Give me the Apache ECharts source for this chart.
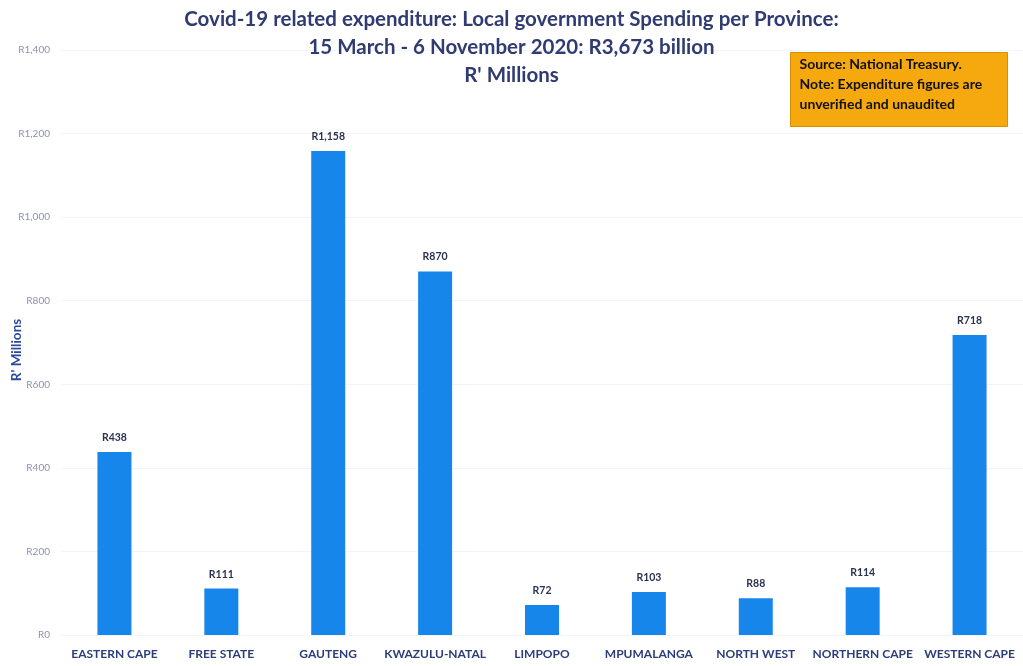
<!DOCTYPE html>
<html><head><meta charset="utf-8">
<script src="https://cdn.jsdelivr.net/npm/echarts@6/dist/echarts.min.js"></script>
<style>html,body{margin:0;padding:0;background:#fff}#c{width:1023px;height:666px}</style>
</head><body><div id="c"></div>
<script>
const categories = ["EASTERN CAPE","FREE STATE","GAUTENG","KWAZULU-NATAL","LIMPOPO","MPUMALANGA","NORTH WEST","NORTHERN CAPE","WESTERN CAPE"];
const spending = [438, 111, 1158, 870, 72, 103, 88, 114, 718];
const titleLines = ["Covid-19 related expenditure: Local government Spending per Province:", "15 March - 6 November 2020: R3,673 billion", "R' Millions"];
const noteLines = ["Source: National Treasury.", "Note: Expenditure figures are", "unverified and unaudited"];
const yAxisName = "R' Millions";

const fmt = v => 'R' + v.toLocaleString('en-US');
const chart = echarts.init(document.getElementById('c'), null, {renderer:'canvas'});
chart.setOption({
  backgroundColor: '#ffffff',
  animation: false,
  title: {
    text: titleLines.join('\n'),
    left: 'center', top: 0,
    textStyle: {fontFamily: 'Lato', fontWeight: 'bold', fontSize: 20.5, color: '#303b72', lineHeight: 28}
  },
  graphic: [{
    type: 'group', left: 790, top: 52,
    children: [
      {type: 'rect', shape: {x: 0, y: 0, width: 217, height: 74}, style: {fill: '#f6a90f', stroke: '#d98e00', lineWidth: 1}},
      {type: 'text', left: 9, top: 2, style: {text: noteLines.join('\n'), fill: '#111', font: 'bold 14px Lato', lineHeight: 20}}
    ]
  }, {
    type: 'text', x: 17, y: 350, rotation: Math.PI / 2,
    style: {text: yAxisName, fill: '#2c4a9a', font: 'bold 13.5px Lato', align: 'center', verticalAlign: 'middle'}
  }],
  grid: {left: 61, right: 0, top: 50, bottom: 31, containLabel: false, outerBoundsMode: 'none'},
  xAxis: {
    type: 'category', data: categories,
    axisLine: {show: false}, axisTick: {show: false},
    axisLabel: {interval: 0, margin: 13, color: '#2c3d78', fontFamily: 'Lato', fontWeight: 'bold', fontSize: 12}
  },
  yAxis: {
    type: 'value', min: 0, max: 1400, interval: 200,
    axisLine: {show: false}, axisTick: {show: false},
    axisLabel: {formatter: v => fmt(v), color: '#8a93b0', fontFamily: 'Lato', fontSize: 10, margin: 11},
    splitLine: {show: true, lineStyle: {color: '#f1f4fa', width: 1}}
  },
  series: [{
    type: 'bar', data: spending, barWidth: 34,
    itemStyle: {color: '#1786ea'},
    label: {show: true, position: 'top', distance: 9, formatter: p => fmt(p.value), color: '#2b3350', fontFamily: 'Lato', fontWeight: 'bold', fontSize: 10.5}
  }]
});
</script></body></html>
